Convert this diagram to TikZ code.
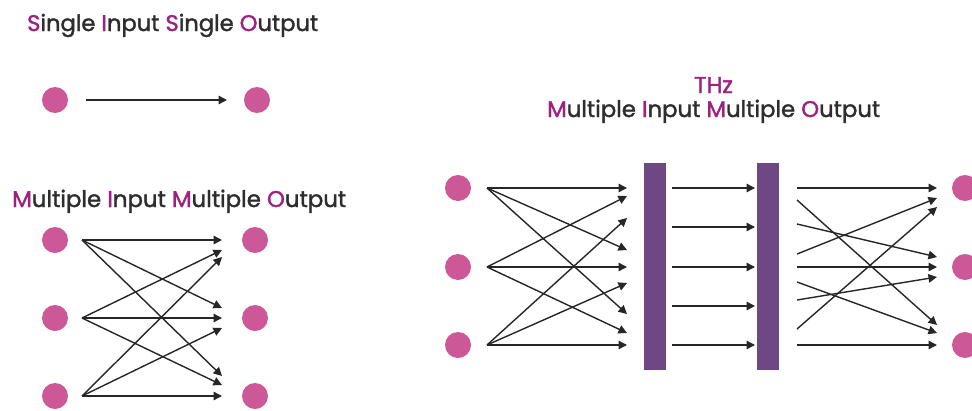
\documentclass[tikz,border=0pt]{standalone}
\usepackage{fontspec}
\setmainfont{Poppins}
\newfontfamily\ttlfont{Poppins}[FakeBold=1.6]
\usetikzlibrary{arrows.meta}
\definecolor{dotpink}{RGB}{205,88,152}
\definecolor{hlmag}{RGB}{160,32,128}
\definecolor{barpurple}{RGB}{111,71,132}
\definecolor{txtgray}{RGB}{45,45,45}
\definecolor{arrgray}{RGB}{38,38,38}
\newcommand{\hlL}[1]{\textcolor{hlmag}{#1}}
\begin{document}
\begin{tikzpicture}[x=1pt,y=-1pt,
  dot/.style={circle,fill=dotpink,minimum size=26pt,inner sep=0pt},
  link/.style={arrgray,line width=1.4pt,-{Triangle[length=8.5pt,width=8.5pt]}},
  bar/.style={fill=barpurple,minimum width=22pt,minimum height=207pt,inner sep=0pt},
  ttl/.style={inner sep=0pt,anchor=base west,text=txtgray,font=\ttlfont}]
\useasboundingbox (0,0) rectangle (972,410);

% titles
\node[ttl] (t1) at (27,31) {\resizebox{291pt}{!}{\hlL{S}ingle \hlL{I}nput \hlL{S}ingle \hlL{O}utput}};
\node[ttl] (t2) at (12,207) {\resizebox{334pt}{!}{\hlL{M}ultiple \hlL{I}nput \hlL{M}ultiple \hlL{O}utput}};
\node[ttl] (t3) at (547,117) {\resizebox{333pt}{!}{\hlL{M}ultiple \hlL{I}nput \hlL{M}ultiple \hlL{O}utput}};
\node[ttl,anchor=base,text=hlmag] (t4) at (713.5,93) {\resizebox{!}{16pt}{THz}};

% SISO
\node[dot] (s1) at (55,100) {};
\node[dot] (s2) at (257,100) {};
\coordinate (ss) at (86,100);
\coordinate (se) at (227,100);
\draw[link] (ss) -- (se);

% MIMO
\foreach \k/\y in {1/240,2/318,3/396}{
  \node[dot] (ml\k) at (55,\y) {};
  \node[dot] (mr\k) at (255,\y) {};
}
\foreach \n/\sy/\ey in {1/240/240,2/240/308,3/240/376,
                        4/318/250,5/318/318,6/318/385,
                        7/396/257,8/396/328,9/396/396}{
  \coordinate (ms\n) at (82,\sy);
  \coordinate (me\n) at (222,\ey);
  \draw[link] (ms\n) -- (me\n);
}

% THz MIMO
\foreach \k/\y in {1/188,2/267,3/345}{
  \node[dot] (tl\k) at (458,\y) {};
  \node[dot] (tr\k) at (965,\y) {};
}
\node[bar] (b1) at (655,266.5) {};
\node[bar] (b2) at (768,266.5) {};
\foreach \n/\sy/\ey in {1/188/188,2/188/250,3/188/314,
                        4/267/196,5/267/267,6/267/333,
                        7/345/218,8/345/283,9/345/345}{
  \coordinate (ls\n) at (487,\sy);
  \coordinate (le\n) at (627,\ey);
  \draw[link] (ls\n) -- (le\n);
}
\foreach \n/\y in {1/188,2/227,3/267,4/306,5/345}{
  \coordinate (cs\n) at (672,\y);
  \coordinate (ce\n) at (755,\y);
  \draw[link] (cs\n) -- (ce\n);
}
\foreach \n/\sy/\ey in {1/188/188,2/200/325,3/224/257,
                        4/254/198,5/267/267,6/282/333,
                        7/300/277,8/329/207,9/345/345}{
  \coordinate (rs\n) at (797,\sy);
  \coordinate (re\n) at (937,\ey);
  \draw[link] (rs\n) -- (re\n);
}
\end{tikzpicture}
\end{document}
